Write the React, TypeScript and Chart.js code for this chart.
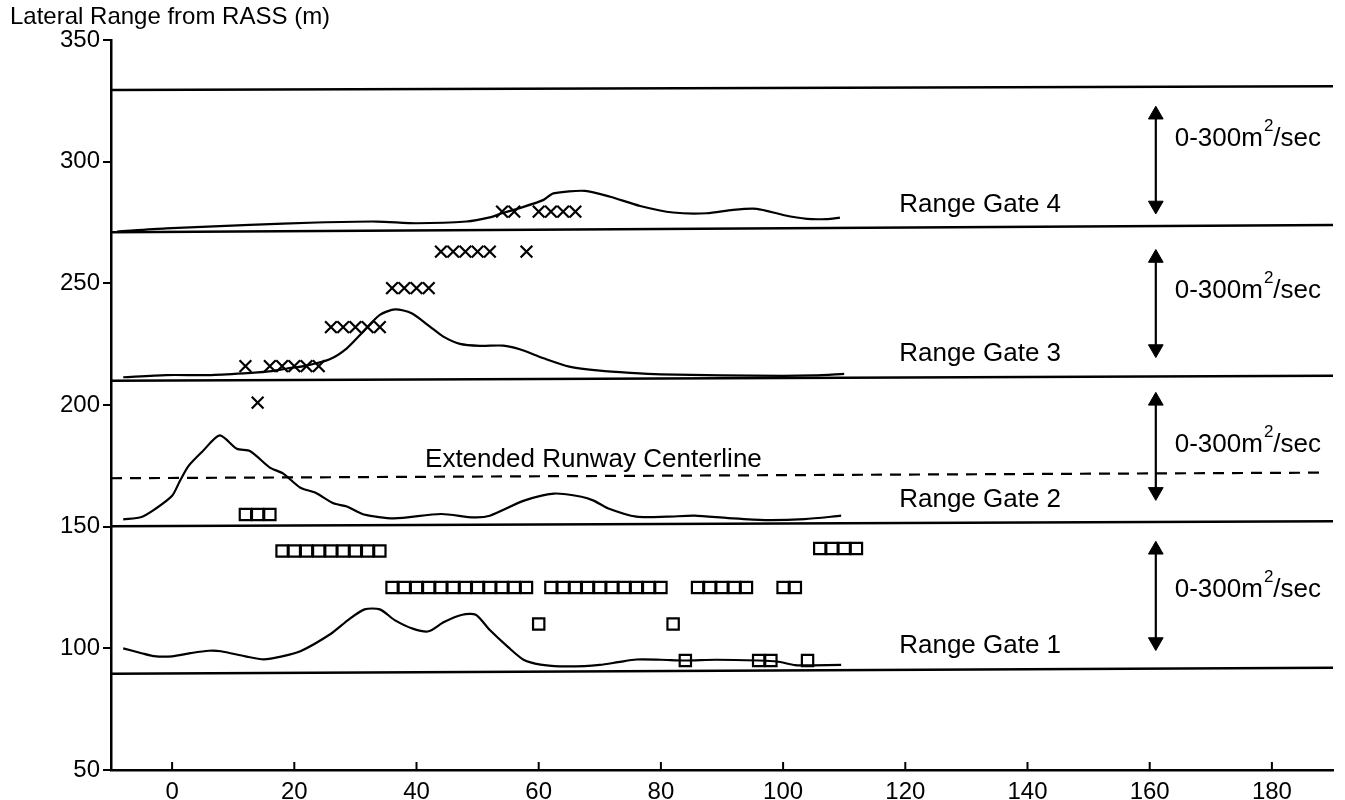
import React, { useEffect, useRef } from "react";
import { Chart, registerables } from "chart.js";

Chart.register(...registerables);

// ---------- axes ----------
const X_MIN = -10;
const X_MAX = 190;
const Y_MIN = 50;
const Y_MAX = 350;
const X_TICKS = [0, 20, 40, 60, 80, 100, 120, 140, 160, 180];
const Y_TICKS = [50, 100, 150, 200, 250, 300, 350];
const TITLE = "Lateral Range from RASS (m)";

// ---------- horizontal reference lines (x, y) ----------
const TOP_BOUNDARY = [[-10, 329.5], [190, 331]];
const GATE4_BASE = [[-10, 271], [190, 274]];
const GATE3_BASE = [[-10, 210], [190, 212]];
const GATE2_BASE = [[-10, 150.2], [190, 152.2]];
const GATE1_BASE = [[-10, 89.6], [190, 92]];
const RUNWAY_CENTERLINE = [[-10, 169.9], [188, 172.2]];

// ---------- eddy dissipation profiles (x, y) ----------
const GATE4_CURVE = [
  [-9, 271.3], [-1, 272.6], [12.7, 274], [23.7, 275], [33.5, 275.4], [40, 274.7],
  [48.2, 275.4], [52, 277.1], [54, 278.8], [57, 281], [60.8, 284.3], [62.4, 287],
  [67.6, 288], [71.7, 285.6], [76.6, 281.8], [82, 279.1], [87.5, 278.8], [91.8, 280.2],
  [95.7, 280.6], [100, 278.1], [103.9, 276.5], [107.1, 276.4], [109.3, 277],
];
const GATE3_CURVE = [
  [-8, 211.4], [-1, 212.3], [6, 212.3], [11.7, 213], [15.5, 213.7], [18.8, 215],
  [22, 216.2], [25.8, 218.8], [28.6, 223.3], [31.3, 230.2], [34, 237], [36.5, 239.3],
  [39.2, 237.7], [42.2, 232.2], [44.4, 228.1], [47.1, 225.1], [50.4, 224.3], [54.2, 224.4],
  [56.9, 222.9], [60.8, 219.2], [65, 215.8], [70, 214.1], [75, 213.2], [80, 212.6],
  [90, 212.2], [100, 212], [105, 212.2], [110, 212.8],
];
const GATE2_CURVE = [
  [-8, 153], [-5, 154], [-2.8, 157.2], [0, 162.7], [1.3, 168.9], [2.7, 175], [5, 181],
  [7.8, 187.5], [10.6, 182], [12.8, 181], [16, 174.3], [18.2, 171.8], [21, 166],
  [23.4, 164], [26.4, 159.6], [28.6, 158.3], [31.4, 155], [36.3, 153.4], [44, 155.2],
  [49.4, 153.8], [52, 154.5], [57.6, 160.7], [62.5, 163.6], [67, 162.3], [69, 160.7],
  [71.3, 157.6], [76, 154.1], [81, 154.1], [85.5, 154.5], [91, 153.5], [97, 152.7],
  [103.5, 153.1], [109.5, 154.5],
];
const GATE1_CURVE = [
  [-8, 100], [-5, 98], [-3, 96.8], [0, 96.7], [3, 98], [6, 99], [8, 98.8], [12, 96.7],
  [15, 95.5], [18, 96.7], [21, 98.8], [26, 106], [29, 112], [31.5, 116], [34, 116],
  [36.5, 111.5], [39.5, 108], [42, 107], [44.5, 110.8], [47.5, 113.8], [49.7, 113.8],
  [52, 107.5], [55, 100.5], [57.6, 95.2], [60.3, 93.3], [63.5, 92.6], [67.5, 92.7],
  [70, 93.2], [73, 94.3], [76, 95.4], [80, 95.3], [84, 95], [89, 95.3], [96, 95],
  [99, 94.6], [102, 93.1], [105, 93], [109.5, 93.2],
];

// ---------- vortex detections: x marks (x, y) ----------
const CROSSES_GATE4 = [[54, 279.5], [56, 279.5], [60, 279.5], [62, 279.5], [64, 279.5], [66, 279.5]];
const CROSSES_ROW263 = [[44, 263], [46, 263], [48, 263], [50, 263], [52, 263], [58, 263]];
const CROSSES_ROW248 = [[36, 248], [38, 248], [40, 248], [42, 248]];
const CROSSES_ROW232 = [[26, 232], [28, 232], [30, 232], [32, 232], [34, 232]];
const CROSSES_ROW216 = [[12, 216], [16, 216], [18, 216], [20, 216], [22, 216], [24, 216]];
const CROSSES_GATE2 = [[14, 201]];

// ---------- vortex detections: squares (x, y) ----------
const SQUARES_ROW155 = [[12, 155], [14, 155], [16, 155]];
const SQUARES_ROW140 = [[18, 140], [20, 140], [22, 140], [24, 140], [26, 140], [28, 140], [30, 140], [32, 140], [34, 140]];
const SQUARES_ROW141 = [[106, 141], [108, 141], [110, 141], [112, 141]];
const SQUARES_ROW125 = [
  [36, 125], [38, 125], [40, 125], [42, 125], [44, 125], [46, 125], [48, 125], [50, 125],
  [52, 125], [54, 125], [56, 125], [58, 125],
  [62, 125], [64, 125], [66, 125], [68, 125], [70, 125], [72, 125], [74, 125], [76, 125],
  [78, 125], [80, 125],
  [86, 125], [88, 125], [90, 125], [92, 125], [94, 125],
  [100, 125], [102, 125],
];
const SQUARES_ROW110 = [[60, 110], [82, 110]];
const SQUARES_ROW95 = [[84, 95], [96, 95], [98, 95], [104, 95]];

// ---------- scale arrows: x, top, bottom ----------
const ARROW_X = 161;
const ARROW_TOPS = [319.3, 260.4, 201.7, 140.5];
const ARROW_BOTTOMS = [282, 223, 164.3, 102.6];

// ---------- annotation text (data coords) ----------
const CENTERLINE_LABEL = { text: "Extended Runway Centerline", x: 41.4, y: 174.7 };
const GATE_LABEL_X = 119;
const GATE_LABELS = ["Range Gate 4", "Range Gate 3", "Range Gate 2", "Range Gate 1"];
const GATE_LABEL_Y = [279.5, 217.9, 158.1, 98.1];
const RATE_LABEL_X = 164.1;
const RATE_LABEL_Y = [306.3, 243.8, 180.8, 121.2];

const FONT = "'Liberation Sans', Arial, Helvetica, sans-serif";

const pts = (arr: number[][]) => arr.map(([x, y]) => ({ x, y }));

const lineDs = (arr: number[][], extra: any = {}) => ({
  data: pts(arr),
  showLine: true,
  pointRadius: 0,
  borderColor: "#000",
  borderWidth: 2.2,
  fill: false,
  tension: 0.25,
  ...extra,
});

const crossDs = (arr: number[][]) => ({
  data: pts(arr),
  showLine: false,
  pointStyle: "crossRot",
  pointRadius: 8.3,
  borderColor: "#000",
  backgroundColor: "#000",
  pointBorderWidth: 2.2,
});

const squareDs = (arr: number[][]) => ({
  data: pts(arr),
  showLine: false,
  pointStyle: "rect",
  pointRadius: 8,
  borderColor: "#000",
  backgroundColor: "rgba(0,0,0,0)",
  pointBorderWidth: 2.2,
});

const arrowDs = (i: number) => ({
  data: [
    { x: ARROW_X, y: ARROW_TOPS[i] },
    { x: ARROW_X, y: ARROW_BOTTOMS[i] },
  ],
  showLine: true,
  borderColor: "#000",
  borderWidth: 2.2,
  pointStyle: "triangle",
  pointRadius: 8.5,
  pointRotation: [0, 180],
  backgroundColor: "#000",
  pointBackgroundColor: "#000",
  pointBorderWidth: 1,
});

const overlayPlugin = {
  id: "overlay",
  afterDraw(chart: any) {
    const { ctx, chartArea } = chart;
    const xs = chart.scales.x;
    const ys = chart.scales.y;
    ctx.save();
    // inward x ticks
    ctx.strokeStyle = "#000";
    ctx.lineWidth = 2;
    X_TICKS.forEach((v) => {
      const px = xs.getPixelForValue(v);
      ctx.beginPath();
      ctx.moveTo(px, chartArea.bottom);
      ctx.lineTo(px, chartArea.bottom - 8);
      ctx.stroke();
    });
    ctx.fillStyle = "#000";
    ctx.textAlign = "left";
    ctx.textBaseline = "alphabetic";
    const main = `26px ${FONT}`;
    ctx.font = main;
    ctx.fillText(
      CENTERLINE_LABEL.text,
      xs.getPixelForValue(CENTERLINE_LABEL.x),
      ys.getPixelForValue(CENTERLINE_LABEL.y)
    );
    GATE_LABELS.forEach((t, i) => {
      ctx.fillText(t, xs.getPixelForValue(GATE_LABEL_X), ys.getPixelForValue(GATE_LABEL_Y[i]));
    });
    RATE_LABEL_Y.forEach((v) => {
      let px = xs.getPixelForValue(RATE_LABEL_X);
      const py = ys.getPixelForValue(v);
      ctx.font = main;
      ctx.fillText("0-300m", px, py);
      px += ctx.measureText("0-300m").width + 1;
      ctx.font = `17px ${FONT}`;
      ctx.fillText("2", px, py - 15);
      px += ctx.measureText("2").width;
      ctx.font = main;
      ctx.fillText("/sec", px, py);
    });
    ctx.restore();
  },
};

export default function App() {
  const ref = useRef<HTMLCanvasElement>(null);
  useEffect(() => {
    const chart = new Chart(ref.current as HTMLCanvasElement, {
      type: "scatter",
      data: {
        datasets: [
          lineDs(TOP_BOUNDARY, { tension: 0, borderWidth: 2.5 }),
          lineDs(GATE4_BASE, { tension: 0, borderWidth: 2.5 }),
          lineDs(GATE3_BASE, { tension: 0, borderWidth: 2.5 }),
          lineDs(GATE2_BASE, { tension: 0, borderWidth: 2.5 }),
          lineDs(GATE1_BASE, { tension: 0, borderWidth: 2.5 }),
          lineDs(RUNWAY_CENTERLINE, { tension: 0, borderDash: [11, 8] }),
          lineDs(GATE4_CURVE),
          lineDs(GATE3_CURVE),
          lineDs(GATE2_CURVE),
          lineDs(GATE1_CURVE),
          crossDs(CROSSES_GATE4),
          crossDs(CROSSES_ROW263),
          crossDs(CROSSES_ROW248),
          crossDs(CROSSES_ROW232),
          crossDs(CROSSES_ROW216),
          crossDs(CROSSES_GATE2),
          squareDs(SQUARES_ROW155),
          squareDs(SQUARES_ROW140),
          squareDs(SQUARES_ROW141),
          squareDs(SQUARES_ROW125),
          squareDs(SQUARES_ROW110),
          squareDs(SQUARES_ROW95),
          arrowDs(0),
          arrowDs(1),
          arrowDs(2),
          arrowDs(3),
        ] as any,
      },
      options: {
        animation: false,
        responsive: true,
        maintainAspectRatio: false,
        layout: { padding: { left: 10, right: 12, top: 0, bottom: 0 } },
        plugins: {
          legend: { display: false },
          tooltip: { enabled: false },
          title: {
            display: true,
            text: TITLE,
            align: "start",
            color: "#000",
            font: { family: FONT, size: 24, weight: "normal" },
            padding: { top: 3, bottom: 8.2 },
          },
        },
        scales: {
          x: {
            type: "linear",
            min: X_MIN,
            max: X_MAX,
            afterBuildTicks: (s: any) => {
              s.ticks = X_TICKS.map((v) => ({ value: v }));
            },
            afterFit: (s: any) => {
              s.height = 30;
            },
            grid: { display: false },
            border: { display: true, color: "#000", width: 2.5 },
            ticks: {
              color: "#000",
              padding: 0,
              maxRotation: 0,
              autoSkip: false,
              font: { family: FONT, size: 24 },
            },
          },
          y: {
            type: "linear",
            min: Y_MIN,
            max: Y_MAX,
            afterBuildTicks: (s: any) => {
              s.ticks = Y_TICKS.map((v) => ({ value: v }));
            },
            afterFit: (s: any) => {
              s.width = 101;
            },
            grid: {
              display: true,
              drawOnChartArea: false,
              drawTicks: true,
              tickLength: 8,
              color: "#000",
              lineWidth: 2,
            },
            border: { display: true, color: "#000", width: 2.5 },
            ticks: {
              color: "#000",
              padding: 3,
              autoSkip: false,
              font: { family: FONT, size: 24 },
            },
          },
        },
      } as any,
      plugins: [overlayPlugin],
    });
    return () => chart.destroy();
  }, []);
  return (
    <div style={{ position: "absolute", left: 0, top: 0, width: 1345, height: 800, background: "#fff" }}>
      <canvas ref={ref} />
    </div>
  );
}
